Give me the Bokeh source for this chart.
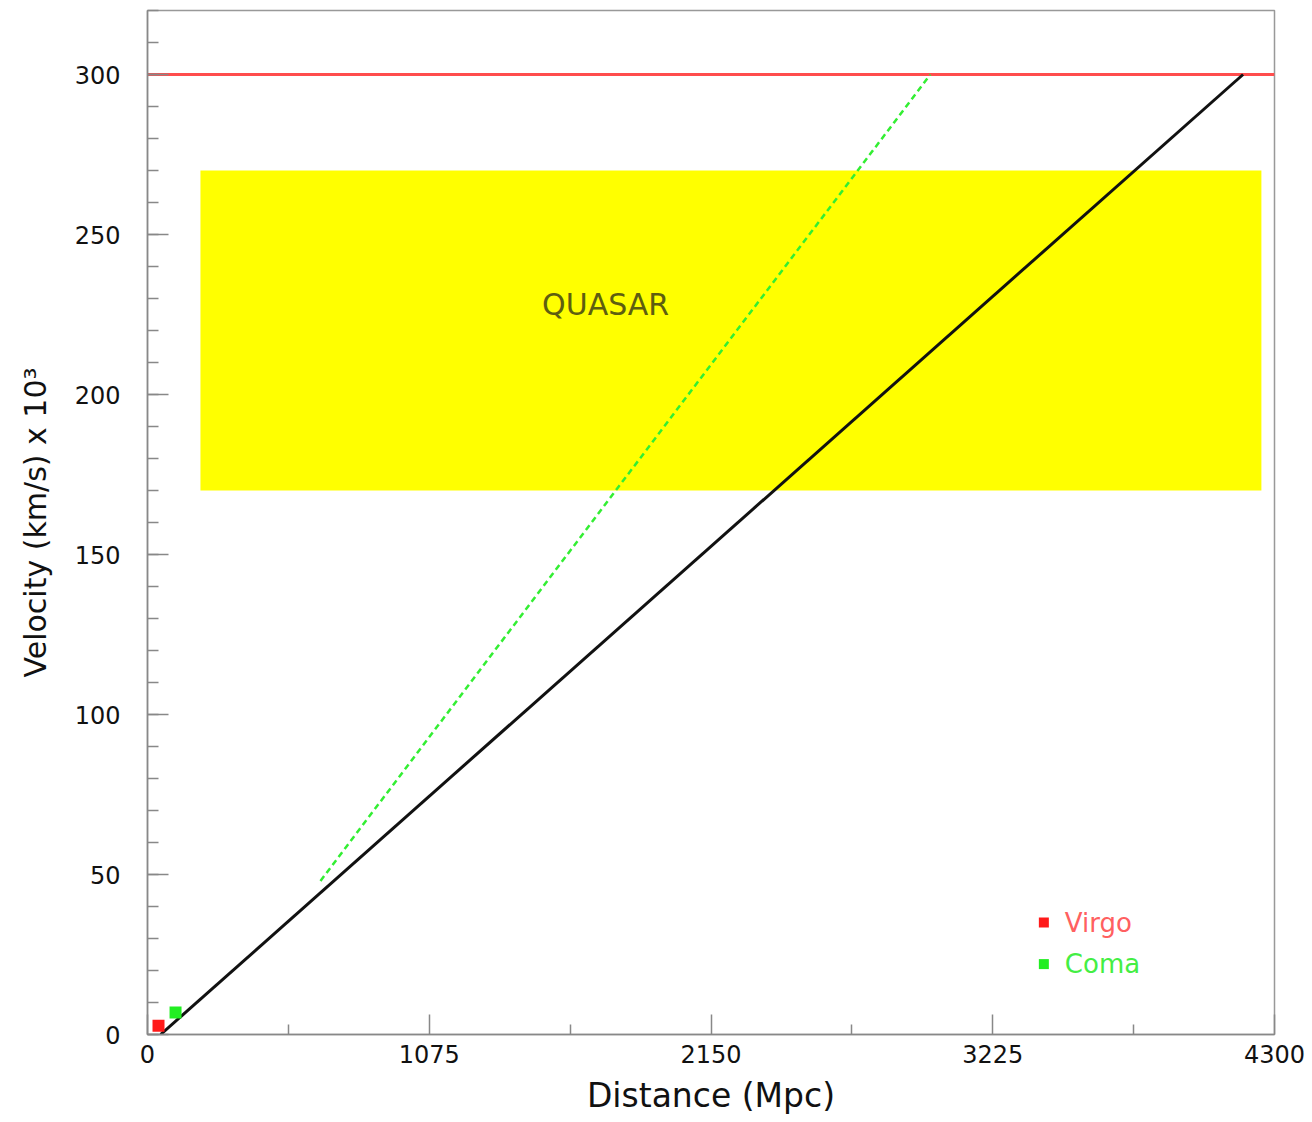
from bokeh.plotting import figure
from bokeh.models import FixedTicker, Range1d, Label
from bokeh.core.properties import value
from bokeh.embed import file_html
from bokeh.resources import INLINE

# ---- data ----
x_major = [0, 1075, 2150, 3225, 4300]
x_minor = [537.5, 1612.5, 2687.5, 3762.5]
y_major = [0, 50, 100, 150, 200, 250, 300]
y_minor = list(range(0, 330, 10))

light_speed = 300            # horizontal line (10^3 km/s)
hubble_d = [50, 4180]        # black solid line
hubble_v = [0, 300]
alt_d = [660, 2987]          # green dashed line
alt_v = [48, 300]

quasar_d = [202, 4250]       # yellow band
quasar_v = [170, 270]
quasar_label = "QUASAR"

cluster_names = ["Virgo", "Coma"]
cluster_d = [42, 107]
cluster_v = [2.7, 6.9]
cluster_colors = ["#ff1a1a", "#22ee22"]
cluster_text_colors = ["#ff6060", "#44ee44"]

FONT = "DejaVu Sans"

p = figure(width=1312, height=1122, output_backend="svg", toolbar_location=None,
           x_range=Range1d(0, 4300), y_range=Range1d(0, 320),
           min_border_left=147, min_border_right=38, min_border_top=10, min_border_bottom=88)
p.grid.visible = False
p.outline_line_color = "#999999"
p.outline_line_width = 1.5
p.background_fill_color = "white"
p.border_fill_color = "white"

# yellow quasar band
p.quad(left=quasar_d[0], right=quasar_d[1], bottom=quasar_v[0], top=quasar_v[1],
       fill_color="#ffff00", line_color=None)
p.add_layout(Label(x=(quasar_d[0] + quasar_d[1]) / 2 - 478, y=(quasar_v[0] + quasar_v[1]) / 2 + 8,
                   text=quasar_label, text_color="#5e5e10", text_font=FONT,
                   text_font_size="30px", text_align="center", text_baseline="middle"))

# speed-of-light line
p.line(x=[0, 4300], y=[light_speed, light_speed], line_color="#ff4d4d", line_width=3)

# green dashed
p.line(x=alt_d, y=alt_v, line_color="#33ee33", line_width=2.5, line_dash="6 4")
# black Hubble line
p.line(x=hubble_d, y=hubble_v, line_color="#111111", line_width=3)

# cluster points
p.scatter(x=cluster_d, y=cluster_v, marker="square", size=12, color=cluster_colors, line_color=None)

# legend (hand drawn)
leg_x = 3420
leg_y = [35, 22]
p.scatter(x=[leg_x] * 2, y=leg_y, marker="square", size=10, color=cluster_colors, line_color=None)
p.text(x=[leg_x + 80] * 2, y=leg_y, text=cluster_names, text_color=cluster_text_colors,
       text_font=value(FONT), text_font_size="26px", text_baseline="middle", text_align="left")

# axes
xa = p.xaxis[0]
xa.ticker = FixedTicker(ticks=x_major, minor_ticks=x_minor)
xa.major_tick_in = 20
xa.major_tick_out = 0
xa.minor_tick_in = 10
xa.minor_tick_out = 0
xa.axis_line_color = "#888888"
xa.axis_line_width = 1.5
xa.major_tick_line_color = "#888888"
xa.minor_tick_line_color = "#888888"
xa.major_tick_line_width = 1.5
xa.minor_tick_line_width = 1.5
xa.major_label_text_font = FONT
xa.major_label_text_font_size = "24px"
xa.major_label_text_color = "#111111"
xa.major_label_standoff = 10
xa.axis_label = "Distance (Mpc)"
xa.axis_label_text_font = FONT
xa.axis_label_text_font_size = "33px"
xa.axis_label_text_font_style = "normal"
xa.axis_label_text_color = "#111111"
xa.axis_label_standoff = 10

ya = p.yaxis[0]
ya.ticker = FixedTicker(ticks=y_major, minor_ticks=y_minor)
ya.major_tick_in = 21
ya.major_tick_out = 0
ya.minor_tick_in = 11
ya.minor_tick_out = 0
ya.axis_line_color = "#888888"
ya.axis_line_width = 1.5
ya.major_tick_line_color = "#888888"
ya.minor_tick_line_color = "#888888"
ya.major_tick_line_width = 1.5
ya.minor_tick_line_width = 1.5
ya.major_label_text_font = FONT
ya.major_label_text_font_size = "24px"
ya.major_label_text_color = "#111111"
ya.major_label_standoff = 27
ya.axis_label = "Velocity (km/s) x 10³"
ya.axis_label_text_font = FONT
ya.axis_label_text_font_size = "30px"
ya.axis_label_text_font_style = "normal"
ya.axis_label_text_color = "#111111"
ya.axis_label_standoff = 19

open("out.html", "w").write(file_html(p, INLINE))
